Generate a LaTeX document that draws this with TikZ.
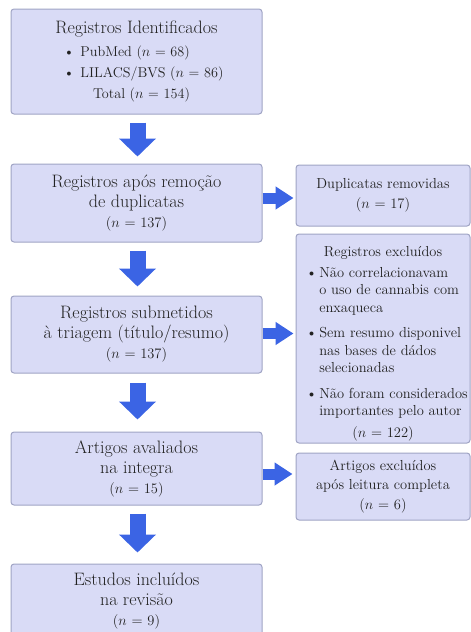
\documentclass[tikz,border=0pt]{standalone}
\usetikzlibrary{arrows.meta}
\definecolor{boxfill}{HTML}{D9DBF6}
\definecolor{boxline}{HTML}{A0A4C4}
\definecolor{arrowblue}{HTML}{3B64E4}
\definecolor{txt}{HTML}{222222}
\newcommand\nval[1]{{\fontsize{14.5}{17}\selectfont($n$ = #1)}}
\newcommand\smalltxt{\fontsize{14.2}{21}\selectfont}
\begin{document}
\begin{tikzpicture}[x=1pt,y=-1pt,
  mainbox/.style={draw=boxline, fill=boxfill, line width=1pt, rounded corners=3pt,
    minimum width=251pt, align=center, inner sep=0pt, text=txt,
    font=\fontsize{18}{20}\selectfont},
  sidebox/.style={draw=boxline, fill=boxfill, line width=1pt, rounded corners=3pt,
    minimum width=174pt, align=center, inner sep=0pt, text=txt,
    font=\fontsize{14.5}{19.5}\selectfont},
  listbox/.style={sidebox, font=\fontsize{14.5}{17.5}\selectfont},
  downarrow/.style={draw=arrowblue, line width=16pt,
    -{Triangle[length=18pt,width=36pt]}, arrowblue},
  rightarrow/.style={draw=arrowblue, line width=11pt,
    -{Triangle[length=18pt,width=22pt]}, arrowblue}]
\useasboundingbox (0,0) rectangle (471,632);
\clip (0,0) rectangle (471,632);

\node[mainbox, minimum height=105pt] (b1) at (136.5,61.5)
  {Registros Identificados\\[3pt]
   \hspace*{14pt}{\smalltxt\begin{tabular}{@{}l@{\hspace{6pt}}l@{}}
   \textbullet & PubMed ($n$ = 68)\\
   \textbullet & LILACS/BVS ($n$ = 86)
   \end{tabular}}\\[3pt]
   \hspace*{10pt}{\smalltxt Total ($n$ = 154)}};

\node[mainbox, minimum height=78pt] (b2) at (136.5,203)
  {Registros após remoção\\de duplicatas\\\nval{137}};

\node[sidebox, minimum height=61pt] (b3) at (383,195.5)
  {Duplicatas removidas\\\nval{17}};

\node[mainbox, minimum height=77pt] (b4) at (136.5,334.5)
  {Registros submetidos\\à triagem (título/resumo)\\\nval{137}};

\node[listbox, minimum height=209pt] (b5) at (383,338.5)
  {\rule{0pt}{20pt}Registros excluídos\\[5pt]
   \hspace*{8pt}\begin{tabular}{@{}l@{\hspace{2pt}}l@{}}
   \textbullet & Não correlacionavam\\
    & o uso de cannabis com\\
    & enxaqueca\\[8pt]
   \textbullet & Sem resumo disponivel\\
    & nas bases de dádos\\
    & selecionadas\\[8pt]
   \textbullet & Não foram considerados\\
    & importantes pelo autor
   \end{tabular}\\[4pt]
   ($n$ = 122)};

\node[mainbox, minimum height=73pt] (b6) at (136.5,468.5)
  {Artigos avaliados\\na integra\\\nval{15}};

\node[sidebox, minimum height=67pt] (b7) at (383,486.5)
  {Artigos excluídos\\após leitura completa\\\nval{6}};

\node[mainbox, minimum height=74pt] (b8) at (136.5,601)
  {Estudos incluídos\\na revisão\\\nval{9}};

\draw[downarrow, shorten <=8pt, shorten >=7pt] ([xshift=1pt]b1.south) -- ([xshift=1pt]b2.north);
\draw[downarrow, shorten <=8pt, shorten >=9pt] ([xshift=1pt]b2.south) -- ([xshift=1pt]b4.north);
\draw[downarrow, shorten <=9pt, shorten >=12pt] ([xshift=1pt]b4.south) -- ([xshift=1pt]b6.north);
\draw[downarrow, shorten <=8pt, shorten >=11pt] ([xshift=1pt]b6.south) -- ([xshift=1pt]b8.north);

\draw[rightarrow, shorten >=2pt] ([yshift=5pt]b2.east) -- ([yshift=5pt]b2.east -| b3.west);
\draw[rightarrow, shorten >=2pt] ([yshift=1pt]b4.east) -- ([yshift=1pt]b4.east -| b5.west);
\draw[rightarrow, shorten >=3pt] ([yshift=-5.5pt]b6.east) -- ([yshift=-5.5pt]b6.east -| b7.west);
\end{tikzpicture}
\end{document}
